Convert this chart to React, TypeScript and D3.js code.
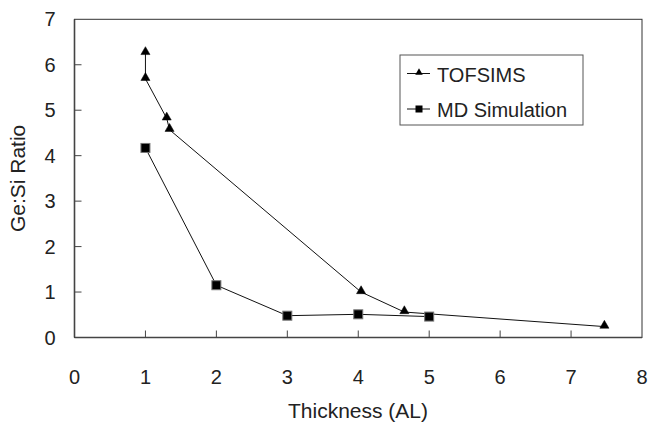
import React from "react";
import * as d3 from "d3";

const tofX = [1, 1, 1.3, 1.34, 4.04, 4.65, 7.47];
const tofY = [6.26, 5.69, 4.82, 4.57, 1.0, 0.56, 0.24];
const mdX = [1, 2, 3, 4, 5];
const mdY = [4.17, 1.15, 0.48, 0.51, 0.46];
const xTicks = [0, 1, 2, 3, 4, 5, 6, 7, 8];
const yTicks = [0, 1, 2, 3, 4, 5, 6, 7];
const seriesNames = ["TOFSIMS", "MD Simulation"];

const W = 648, H = 422;
const L = 74.5, R = 642, T = 19.3, B = 337.5;
const font = "'Liberation Sans', Arial, sans-serif";

export default function App() {
  const x = d3.scaleLinear().domain([0, 8]).range([L, R]);
  const y = d3.scaleLinear().domain([0, 7]).range([B, T]);
  const line = d3.line<[number, number]>().x(d => x(d[0])).y(d => y(d[1]));
  const tof: [number, number][] = tofX.map((v, i) => [v, tofY[i]]);
  const md: [number, number][] = mdX.map((v, i) => [v, mdY[i]]);
  const tri = d3.symbol().type(d3.symbolTriangle).size(36)() as string;
  const sq = (cx: number, cy: number, s: number) => (
    <rect x={cx - s / 2} y={cy - s / 2} width={s} height={s} fill="#000" stroke="#777" strokeWidth={1} />
  );
  return (
    <svg width={W} height={H} style={{ position: "absolute", left: 0, top: 0, background: "#fff" }}>
      <rect x={0} y={0} width={W} height={H} fill="#fff" />
      <rect x={L} y={T} width={R - L} height={B - T} fill="none" stroke="#333" strokeWidth={1} />
      <line x1={L} x2={L} y1={T} y2={B} stroke="#444" strokeWidth={1.6} />
      <line x1={L} x2={R} y1={B} y2={B} stroke="#444" strokeWidth={1.6} />
      {xTicks.map(t => (
        <g key={"x" + t}>
          {t > 0 && t < 8 && <line x1={x(t)} x2={x(t)} y1={B} y2={B - 7} stroke="#444" strokeWidth={1} />}
          <text x={x(t)} y={384} textAnchor="middle" fontFamily={font} fontSize={20} fill="#222">{t}</text>
        </g>
      ))}
      {yTicks.map(t => (
        <g key={"y" + t}>
          {t > 0 && t < 7 && <line x1={L} x2={L + 7} y1={y(t)} y2={y(t)} stroke="#444" strokeWidth={1} />}
          <text x={55.5} y={y(t) + 7} textAnchor="end" fontFamily={font} fontSize={20} fill="#222">{t}</text>
        </g>
      ))}
      <text x={358} y={418} textAnchor="middle" fontFamily={font} fontSize={21} fill="#222">Thickness (AL)</text>
      <text transform={`translate(25,${(T + B) / 2}) rotate(-90)`} textAnchor="middle" fontFamily={font} fontSize={21} fill="#222">Ge:Si Ratio</text>
      <path d={line(tof) || ""} fill="none" stroke="#111" strokeWidth={1} />
      <path d={line(md) || ""} fill="none" stroke="#111" strokeWidth={1} />
      {tof.map((d, i) => (
        <path key={"t" + i} d={tri} transform={`translate(${x(d[0])},${y(d[1]) - 1})`} fill="#000" stroke="#000" strokeWidth={0.5} />
      ))}
      {md.map((d, i) => <g key={"m" + i}>{sq(x(d[0]), y(d[1]), 9)}</g>)}
      <rect x={400} y={55} width={183} height={70} fill="#fff" stroke="#555" strokeWidth={1} />
      <line x1={407} x2={430} y1={73.5} y2={73.5} stroke="#111" strokeWidth={1} />
      <path d={d3.symbol().type(d3.symbolTriangle).size(24)() as string} transform="translate(419,72.5)" fill="#000" />
      <text x={437} y={81.5} fontFamily={font} fontSize={20} fill="#222">{seriesNames[0]}</text>
      <line x1={407} x2={430} y1={109} y2={109} stroke="#111" strokeWidth={1} />
      <rect x={415.5} y={105.5} width={7} height={7} fill="#000" />
      <text x={437} y={117} fontFamily={font} fontSize={20} fill="#222">{seriesNames[1]}</text>
    </svg>
  );
}
